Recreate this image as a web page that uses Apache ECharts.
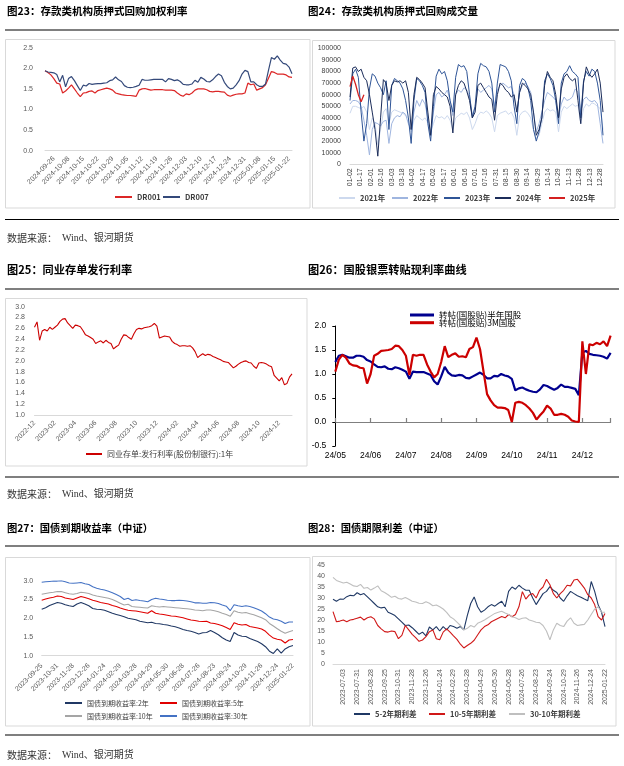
<!DOCTYPE html>
<html>
<head>
<meta charset="utf-8">
<script src="https://cdn.jsdelivr.net/npm/echarts@6/dist/echarts.min.js"></script>
<style>
html,body{margin:0;padding:0;background:#ffffff;}
#c{width:624px;height:766px;}
</style>
</head>
<body>
<div id="c"></div>
<script>
// ---------- Figure 23 : DR001 / DR007 ----------
const labels23 = ['2024-09-26','2024-10-08','2024-10-15','2024-10-22','2024-10-29','2024-11-05','2024-11-12','2024-11-19','2024-11-26','2024-12-03','2024-12-10','2024-12-17','2024-12-24','2024-12-31','2025-01-08','2025-01-15','2025-01-22'];
const dr001 = [1.94,1.90,1.84,1.75,1.64,1.62,1.40,1.45,1.52,1.60,
1.50,1.40,1.31,1.40,1.41,1.44,1.45,1.40,1.46,1.48,
1.50,1.52,1.50,1.47,1.40,1.38,1.36,1.35,1.34,1.34,
1.33,1.32,1.47,1.50,1.51,1.49,1.47,1.48,1.48,1.48,
1.48,1.47,1.47,1.47,1.46,1.40,1.35,1.32,1.38,1.36,
1.40,1.47,1.50,1.50,1.50,1.48,1.44,1.43,1.44,1.44,
1.43,1.42,1.35,1.32,1.35,1.37,1.38,1.38,1.40,1.64,
1.60,1.62,1.47,1.50,1.53,1.60,1.76,1.92,1.90,1.86,
1.86,1.86,1.84,1.79,1.78];
const dr007 = [1.94,1.91,1.90,1.89,1.85,1.67,1.83,1.55,1.75,1.80,
1.70,1.58,1.46,1.59,1.57,1.63,1.61,1.62,1.63,1.63,
1.64,1.65,1.70,1.72,1.79,1.72,1.68,1.58,1.54,1.53,
1.54,1.56,1.59,1.73,1.71,1.71,1.72,1.73,1.73,1.73,
1.73,1.67,1.75,1.73,1.70,1.72,1.68,1.61,1.60,1.60,
1.62,1.71,1.66,1.78,1.74,1.68,1.67,1.72,1.80,1.86,
1.82,1.66,1.56,1.50,1.52,1.60,1.70,1.86,1.95,1.92,
1.67,1.67,1.60,1.56,1.56,1.62,1.95,2.26,2.22,2.30,
2.20,2.12,2.10,2.03,1.87];

// ---------- Figure 24 : repo volume by year (sampled every 4 calendar days from 01-02) ----------
const labels24 = ['01-02','01-17','02-01','02-16','03-03','03-18','04-02','04-17','05-02','05-17','06-01','06-16','07-01','07-16','07-31','08-15','08-30','09-14','09-29','10-14','10-29','11-13','11-28','12-13','12-28'];
const dayStep24 = 4;
const vol2021 = [44000,50000,50000,49000,48000,50000,45000,30000,40000,35000,
17000,30000,45000,48000,35000,45000,47000,46000,45000,44000,
42000,40000,28000,38000,42000,40000,38000,40000,36000,28000,
35000,42000,40000,41000,39000,42000,38000,30000,40000,42000,
44000,43000,45000,40000,30000,35000,42000,45000,44000,46000,
44000,40000,28000,42000,44000,45000,46000,43000,45000,40000,
25000,42000,45000,46000,44000,40000,30000,22000,25000,35000,
45000,48000,46000,47000,45000,28000,45000,50000,48000,50000,
52000,50000,51000,35000,48000,52000,50000,53000,52000,50000,
48000,30000];
const vol2022 = [52000,55000,55000,54000,50000,38000,25000,8000,30000,36000,
35000,33000,37000,38000,18000,35000,40000,42000,41000,45000,
43000,35000,30000,45000,55000,50000,56000,52000,40000,25000,
45000,60000,62000,58000,60000,64000,55000,42000,60000,64000,
62000,66000,64000,58000,42000,50000,65000,62000,64000,66000,
68000,65000,50000,64000,68000,70000,68000,66000,67000,60000,
45000,62000,68000,70000,67000,62000,45000,28000,35000,45000,
55000,62000,60000,58000,55000,40000,52000,58000,55000,56000,
58000,65000,62000,45000,56000,58000,55000,54000,55000,52000,
35000,18000];
const vol2023 = [55000,78000,82000,75000,45000,20000,35000,65000,78000,76000,
70000,66000,60000,72000,30000,68000,74000,72000,70000,65000,
55000,40000,18000,55000,74000,72000,68000,62000,35000,20000,
50000,76000,82000,78000,80000,72000,55000,45000,75000,86000,
84000,85000,80000,60000,40000,50000,78000,87000,85000,84000,
80000,70000,45000,70000,86000,85000,84000,80000,72000,50000,
35000,68000,74000,72000,66000,55000,30000,20000,28000,40000,
72000,78000,74000,68000,55000,35000,70000,78000,80000,85000,
80000,78000,75000,40000,72000,80000,76000,82000,80000,70000,
55000,25000];
const vol2024 = [58000,83000,84000,80000,82000,75000,72000,60000,45000,30000,
7000,40000,73000,70000,55000,68000,72000,71000,72000,70000,
72000,62000,30000,60000,75000,73000,70000,66000,45000,25000,
60000,67000,65000,62000,60000,58000,50000,27000,60000,68000,
72000,70000,63000,55000,40000,45000,68000,70000,66000,62000,
58000,56000,38000,60000,70000,68000,64000,62000,58000,60000,
45000,62000,70000,68000,65000,60000,45000,25000,30000,40000,
68000,80000,75000,72000,60000,40000,65000,75000,78000,74000,
72000,74000,55000,35000,70000,84000,78000,75000,78000,82000,
70000,45000];
const vol2025 = [67000,76000,69000,60000,54000,60000];

// ---------- Figure 25 : NCD issuance rate (4 points per month from 2022-12) ----------
const labels25 = ['2022-12','2023-02','2023-04','2023-06','2023-08','2023-10','2023-12','2024-02','2024-04','2024-06','2024-08','2024-10','2024-12'];
const monthStep25 = 0.25;
const ncdRate = [2.62,2.72,2.38,2.55,2.58,2.55,2.62,2.58,2.62,2.66,
2.73,2.77,2.78,2.70,2.65,2.60,2.66,2.65,2.63,2.56,
2.48,2.46,2.43,2.40,2.32,2.35,2.37,2.33,2.38,2.34,
2.32,2.22,2.26,2.29,2.40,2.48,2.47,2.43,2.40,2.50,
2.58,2.60,2.59,2.61,2.62,2.63,2.65,2.69,2.64,2.42,
2.44,2.46,2.45,2.44,2.36,2.32,2.30,2.27,2.28,2.28,
2.27,2.28,2.24,2.17,2.06,2.10,2.13,2.10,2.12,2.11,
2.08,2.06,2.04,2.02,1.99,1.98,1.97,1.92,1.87,1.90,
1.94,1.97,1.99,2.00,1.97,1.96,1.90,1.86,1.96,1.97,
1.96,1.94,1.91,1.89,1.73,1.68,1.63,1.69,1.56,1.58,
1.70,1.76];

// ---------- Figure 26 : bill rediscount rates (10 points per month from 24/05) ----------
const labels26 = ['24/05','24/06','24/07','24/08','24/09','24/10','24/11','24/12'];
const monthStep26 = 0.1;
const halfYear = [1.25,1.38,1.40,1.37,1.34,1.34,1.38,1.38,1.36,1.29,
1.26,1.20,1.15,1.14,1.16,1.11,1.10,1.14,1.12,1.09,
1.05,0.90,1.05,1.04,1.04,1.04,1.01,0.98,0.85,0.78,
0.95,1.15,1.03,0.97,0.96,0.98,0.97,0.92,0.91,0.95,
0.99,1.03,0.98,0.91,0.91,0.96,0.95,1.00,0.97,0.95,
0.90,0.66,0.70,0.72,0.68,0.65,0.63,0.62,0.68,0.77,
0.75,0.71,0.67,0.71,0.78,0.73,0.73,0.71,0.69,0.56,
1.45,1.48,1.42,1.40,1.39,1.38,1.36,1.32,1.44];
const threeMonth = [1.05,1.30,1.40,1.34,1.22,1.18,1.17,1.13,1.12,0.80,
1.00,1.38,1.42,1.48,1.49,1.50,1.52,1.59,1.58,1.50,
1.38,0.98,1.40,1.38,1.40,1.40,1.20,1.05,0.93,1.00,
1.25,1.58,1.35,1.40,1.43,1.36,1.37,1.35,1.52,1.56,
1.76,1.52,1.05,0.58,0.45,0.35,0.30,0.30,0.29,0.25,
0.00,0.40,0.42,0.40,0.35,0.28,0.19,0.05,0.14,0.22,
0.34,0.28,0.15,0.15,0.17,0.15,0.11,0.03,0.01,0.00,
1.68,1.00,1.62,1.60,1.65,1.62,1.68,1.58,1.80];

// ---------- Figure 27 : treasury yields (weekly, 4 points per label step) ----------
const labels27 = ['2023-09-25','2023-10-31','2023-11-28','2023-12-26','2024-01-24','2024-02-29','2024-03-28','2024-04-29','2024-05-30','2024-06-28','2024-07-26','2024-08-23','2024-09-24','2024-10-29','2024-11-26','2024-12-24','2025-01-22'];
const yield2y = [2.24,2.28,2.34,2.38,2.42,2.40,2.36,2.33,2.31,2.38,
2.42,2.38,2.33,2.26,2.24,2.23,2.21,2.17,2.13,2.10,
2.07,2.04,2.00,1.98,1.96,1.92,1.90,1.88,1.89,1.86,
1.85,1.83,1.82,1.79,1.77,1.74,1.70,1.67,1.65,1.62,
1.58,1.61,1.62,1.67,1.62,1.56,1.48,1.42,1.38,1.62,
1.55,1.52,1.51,1.46,1.42,1.38,1.32,1.24,1.12,1.06,
1.18,1.07,1.18,1.24,1.27];
const yield5y = [2.48,2.51,2.54,2.56,2.59,2.58,2.54,2.52,2.50,2.54,
2.58,2.55,2.52,2.48,2.45,2.42,2.40,2.38,2.34,2.31,
2.27,2.24,2.21,2.20,2.19,2.17,2.15,2.13,2.20,2.13,
2.11,2.10,2.08,2.06,2.05,2.03,2.01,1.98,1.95,1.94,
1.92,1.91,1.92,1.87,1.86,1.83,1.80,1.75,1.70,1.88,
1.84,1.82,1.83,1.78,1.76,1.74,1.71,1.65,1.55,1.47,
1.44,1.42,1.34,1.42,1.43];
const yield10y = [2.64,2.66,2.68,2.69,2.71,2.71,2.68,2.65,2.64,2.66,
2.69,2.68,2.66,2.62,2.59,2.57,2.55,2.53,2.50,2.45,
2.40,2.35,2.37,2.31,2.30,2.29,2.28,2.27,2.33,2.31,
2.30,2.31,2.30,2.29,2.28,2.27,2.26,2.25,2.24,2.22,
2.21,2.20,2.22,2.22,2.20,2.17,2.13,2.10,2.05,2.20,
2.16,2.14,2.15,2.12,2.09,2.05,2.01,1.96,1.86,1.79,
1.72,1.65,1.60,1.64,1.67];
const yield30y = [2.96,2.97,2.98,2.99,2.99,3.00,2.97,2.94,2.93,2.94,
2.95,2.92,2.90,2.84,2.80,2.77,2.75,2.72,2.68,2.63,
2.58,2.50,2.53,2.47,2.49,2.47,2.46,2.44,2.50,2.53,
2.51,2.50,2.48,2.47,2.47,2.48,2.47,2.46,2.44,2.41,
2.41,2.40,2.40,2.42,2.41,2.39,2.35,2.32,2.20,2.36,
2.33,2.31,2.33,2.31,2.28,2.24,2.19,2.12,2.03,1.98,
1.96,1.92,1.86,1.90,1.90];

// ---------- Figure 28 : term spreads (bp, weekly) ----------
const labels28 = ['2023-07-03','2023-07-31','2023-08-28','2023-09-25','2023-10-31','2023-11-28','2023-12-26','2024-01-24','2024-02-29','2024-03-28','2024-04-29','2024-05-30','2024-06-28','2024-07-26','2024-08-23','2024-09-24','2024-10-29','2024-11-26','2024-12-24','2025-01-22'];
const spread52 = [29.4,28.5,29.5,29.4,30.6,31.2,31.0,32.4,31.5,32.0,
30.5,29.0,27.5,26.0,25.5,25.8,23.5,22.8,22.0,20.5,
19.0,17.5,17.7,16.5,15.0,13.5,14.5,12.8,16.8,15.5,
17.0,15.0,17.0,15.5,17.5,17.0,16.3,17.0,15.5,22.0,
27.5,30.5,26.0,23.5,24.5,26.0,27.0,26.3,27.5,28.5,
26.0,33.0,35.0,34.0,35.8,34.5,33.5,33.5,30.0,27.0,
29.5,32.0,33.0,35.2,33.5,32.5,30.0,28.5,31.0,33.0,
32.0,31.0,30.3,29.5,28.8,37.5,33.0,27.0,23.5,17.0];
const spread105 = [23.8,19.2,19.5,20.0,19.2,20.0,20.3,20.8,21.3,20.0,
21.0,21.5,20.5,17.5,16.0,14.7,14.5,15.0,14.7,11.5,
13.0,17.5,15.5,13.5,12.0,10.3,10.9,12.4,14.7,15.5,
11.5,11.0,14.5,16.0,14.5,12.8,11.2,9.0,7.3,8.4,
9.4,10.8,13.2,15.5,17.0,17.8,19.2,20.0,20.8,21.6,
21.0,22.5,21.5,22.5,26.0,32.9,29.5,31.4,32.0,30.0,
33.5,35.0,38.5,36.0,32.0,30.0,32.0,33.5,35.8,35.5,
38.2,38.5,36.5,34.5,31.5,30.0,27.0,21.5,20.0,23.0];
const spread3010 = [39.4,38.0,37.4,36.8,37.2,36.4,35.5,35.2,36.2,34.4,
34.8,33.6,34.5,35.5,33.3,32.5,31.5,30.3,30.8,29.8,
29.5,30.2,29.4,28.5,28.2,27.6,27.5,28.3,27.6,26.5,
26.8,26.0,25.0,23.5,21.5,20.5,19.0,17.5,15.5,16.2,
17.5,16.8,18.5,19.2,20.0,21.0,22.0,23.0,23.5,24.0,
23.2,22.5,21.5,21.0,20.2,20.8,21.0,20.0,19.5,19.0,
18.8,17.5,15.0,11.0,15.5,18.5,17.5,17.0,19.5,21.0,
18.5,17.5,17.8,18.0,20.0,22.5,25.0,26.0,23.5,23.5];

// ---------- helpers ----------
const NUM = '"Liberation Sans", Arial, "Noto Sans CJK SC", sans-serif';
const CJK = '"Noto Sans CJK SC", "Liberation Sans", sans-serif';
const LAB = '#595959';

function indexCats(n){ const a=[]; for(let i=0;i<n;i++) a.push(String(i)); return a; }
function pairs(vals, step){ return vals.map((v,i)=>[Math.round(i*step*10000)/10000, v]); }

function catX(gi, n, labels, offset, step, rotate, margin, color){
  return {type:'category', gridIndex:gi, boundaryGap:false, data:indexCats(n),
    axisLine:{show:true, onZero:false, lineStyle:{color:'#d9d9d9', width:1}},
    axisTick:{show:false}, splitLine:{show:false},
    axisLabel:{interval:(i)=> i>=offset && (i-offset)%step===0,
      formatter:(v,i)=>{ const k=(i-offset)/step; return (k>=0 && Number.isInteger(k) && labels[k]) ? labels[k] : ''; },
      rotate:rotate, margin:margin, fontSize:7, color:color, fontFamily:NUM}};
}
function valX(gi, max, interval, labels, rotate, margin, color, fs){
  return {type:'value', gridIndex:gi, min:0, max:max, interval:interval,
    axisLine:{show:true, onZero:false, lineStyle:{color:'#d9d9d9', width:1}},
    axisTick:{show:false}, splitLine:{show:false},
    axisLabel:{showMinLabel:true, showMaxLabel:true,
      formatter:(v)=>{ const k=Math.round(v/interval); return (Math.abs(k*interval-v)<1e-6 && labels[k]!==undefined) ? labels[k] : ''; },
      rotate:rotate, margin:margin, fontSize:fs||7, color:color, fontFamily:NUM}};
}
function valY(gi, min, max, interval, fmt, margin, color, fs){
  return {type:'value', gridIndex:gi, min:min, max:max, interval:interval,
    axisLine:{show:false}, axisTick:{show:false}, splitLine:{show:false},
    axisLabel:{formatter:fmt, margin:margin, fontSize:fs||7, color:color||LAB, fontFamily:NUM}};
}
function ln(name, xi, yi, data, color, width){
  return {name:name, type:'line', xAxisIndex:xi, yAxisIndex:yi, data:data, showSymbol:false, symbol:'none',
    color:color, itemStyle:{color:color}, lineStyle:{color:color, width:width}, silent:true, emphasis:{disabled:true}};
}
function leg(name, left, cy, w, h, fs, weight, color){
  return {data:[name], left:left, top:cy-5, padding:0, itemGap:0, icon:'rect', itemWidth:w, itemHeight:h,
    selectedMode:false, textStyle:{fontSize:fs, fontWeight:weight, color:color, fontFamily:CJK, lineHeight:10}};
}
const f1 = v => v.toFixed(1);

// ---------- graphic: titles, rules, frames, sources ----------
const gfx = [];
function title(t, x, y, fs){ gfx.push({type:'text', style:{text:t, x:x, y:y, font:'bold '+fs+'px "Noto Sans CJK SC", sans-serif', fill:'#000', align:'left', verticalAlign:'middle'}}); }
function rule(y){ gfx.push({type:'line', shape:{x1:5, y1:y, x2:619, y2:y}, style:{stroke:'#000', lineWidth:1.2}}); }
function frame(x, y, w, h){ gfx.push({type:'rect', shape:{x:x, y:y, width:w, height:h}, style:{fill:'none', stroke:'#d9d9d9', lineWidth:1}}); }
function source(y){
  gfx.push({type:'text', style:{text:'数据来源：', x:7, y:y, font:'10px "Noto Sans CJK SC", serif', fill:'#333', verticalAlign:'middle'}});
  gfx.push({type:'text', style:{text:'Wind、银河期货', x:62, y:y, font:'10px "Liberation Serif", "Noto Sans CJK SC", serif', fill:'#333', verticalAlign:'middle'}});
}
title('图23：存款类机构质押式回购加权利率', 7, 11.5, 10.5);
title('图24：存款类机构质押式回购成交量', 308, 11.5, 10.5);
title('图25：同业存单发行利率', 7, 270, 11.2);
title('图26：国股银票转贴现利率曲线', 308, 270, 11.2);
title('图27：国债到期收益率（中证）', 7, 528, 10.3);
title('图28：国债期限利差（中证）', 308, 528, 10.3);
rule(30); rule(219.5); rule(289); rule(477); rule(546); rule(735);
frame(5.5, 39.5, 304.5, 168.5);
frame(312.5, 40.5, 302.5, 167.5);
frame(5.5, 298.5, 301.5, 167.5);
frame(5.5, 557.5, 304.5, 168.5);
frame(312.5, 556.5, 303.5, 169.5);
source(238); source(494); source(755);

// figure 26 axes: labels at bottom, axis line with ticks on the zero level
const x26labels = valX(3, 7.8, 1, labels26, 0, 5, '#000', 8.5);
x26labels.axisLine = {show:false, onZero:false};
const x26zero = valX(3, 7.8, 1, [], 0, 5, '#000');
x26zero.axisLine = {show:true, onZero:true, lineStyle:{color:'#7f7f7f', width:1.2}};
x26zero.axisTick = {show:true, length:4, inside:false, lineStyle:{color:'#7f7f7f', width:1.2}};
x26zero.axisLabel = {show:false};
const y26 = valY(3, -0.5, 2.0, 0.5, f1, 9, '#000', 8.5);
y26.axisLine = {show:true, onZero:false, lineStyle:{color:'#000', width:1}};
y26.axisTick = {show:true, length:3, lineStyle:{color:'#000', width:1}};

const option = {
  animation:false,
  backgroundColor:'#ffffff',
  graphic: gfx,
  grid:[
    {left:45, top:47.7, width:247, height:103, outerBoundsMode:'none'},
    {left:350, top:48.3, width:253, height:116, outerBoundsMode:'none'},
    {left:34.5, top:306.7, width:257.5, height:108.3, outerBoundsMode:'none'},
    {left:335.3, top:326, width:275.3, height:120, outerBoundsMode:'none'},
    {left:41.7, top:580.7, width:251.3, height:75, outerBoundsMode:'none'},
    {left:333, top:565, width:272, height:99, outerBoundsMode:'none'}
  ],
  xAxis:[
    catX(0, dr001.length, labels23, 3, 5, 45, 7, LAB),
    valX(1, 364, 15, labels24, 90, 4, '#404040'),
    valX(2, 25.25, 2, labels25, 45, 7, LAB),
    x26labels,
    x26zero,
    valX(4, yield2y.length-1, 4, labels27, 45, 9, LAB),
    catX(5, spread52.length, labels28, 3, 4, 90, 5, LAB)
  ],
  yAxis:[
    valY(0, 0, 2.5, 0.5, f1, 12),
    valY(1, 0, 100000, 10000, v => String(v), 9, '#404040'),
    valY(2, 1.0, 3.0, 0.2, f1, 9.5),
    y26,
    valY(4, 1.0, 3.0, 0.5, f1, 8.5),
    valY(5, 0, 45, 5, v => String(v), 8)
  ],
  legend:[
    leg('DR001', 115, 197, 17, 2, 7.5, 'bold', '#404040'),
    leg('DR007', 163, 197, 17, 2, 7.5, 'bold', '#404040'),
    leg('2021年', 339, 198, 16, 2, 7.5, 'bold', '#404040'),
    leg('2022年', 392, 198, 16, 2, 7.5, 'bold', '#404040'),
    leg('2023年', 444, 198, 16, 2, 7.5, 'bold', '#404040'),
    leg('2024年', 495, 198, 16, 2, 7.5, 'bold', '#404040'),
    leg('2025年', 549, 198, 16, 2, 7.5, 'bold', '#404040'),
    leg('同业存单:发行利率(股份制银行):1年', 86, 454, 16, 2, 8, 'normal', '#404040'),
    leg('转帖(国股贴)半年国股', 410, 315, 24, 3, 8.5, 'normal', '#000'),
    leg('转帖(国股贴)3M国股', 410, 322.7, 24, 3, 8.5, 'normal', '#000'),
    leg('国债到期收益率:2年', 65, 703, 17, 2, 7, 'normal', '#404040'),
    leg('国债到期收益率:5年', 160, 703, 17, 2, 7, 'normal', '#404040'),
    leg('国债到期收益率:10年', 65, 716, 17, 2, 7, 'normal', '#404040'),
    leg('国债到期收益率:30年', 160, 716, 17, 2, 7, 'normal', '#404040'),
    leg('5-2年期利差', 354, 714, 16, 2, 7.5, 'bold', '#404040'),
    leg('10-5年期利差', 429, 714, 16, 2, 7.5, 'bold', '#404040'),
    leg('30-10年期利差', 509, 714, 16, 2, 7.5, 'bold', '#404040')
  ],
  series:[
    ln('DR001', 0, 0, dr001, '#dc2626', 1.2),
    ln('DR007', 0, 0, dr007, '#34497a', 1.2),
    ln('2021年', 1, 1, pairs(vol2021, dayStep24), '#cdd9ee', 1),
    ln('2022年', 1, 1, pairs(vol2022, dayStep24), '#9fb5df', 1),
    ln('2023年', 1, 1, pairs(vol2023, dayStep24), '#2f5597', 1),
    ln('2024年', 1, 1, pairs(vol2024, dayStep24), '#1c2d5a', 1),
    ln('2025年', 1, 1, pairs(vol2025, dayStep24), '#d42020', 1.3),
    ln('同业存单:发行利率(股份制银行):1年', 2, 2, pairs(ncdRate, monthStep25), '#cc0000', 1.1),
    ln('转帖(国股贴)半年国股', 3, 3, pairs(halfYear, monthStep26), '#00008f', 2.2),
    ln('转帖(国股贴)3M国股', 3, 3, pairs(threeMonth, monthStep26), '#cc0000', 2.2),
    ln('国债到期收益率:2年', 5, 4, pairs(yield2y, 1), '#203864', 1.1),
    ln('国债到期收益率:5年', 5, 4, pairs(yield5y, 1), '#e00000', 1.1),
    ln('国债到期收益率:10年', 5, 4, pairs(yield10y, 1), '#a5a5a5', 1.1),
    ln('国债到期收益率:30年', 5, 4, pairs(yield30y, 1), '#4472c4', 1.1),
    ln('5-2年期利差', 6, 5, spread52, '#1f3864', 1.1),
    ln('10-5年期利差', 6, 5, spread105, '#d01818', 1.1),
    ln('30-10年期利差', 6, 5, spread3010, '#bfbfbf', 1.1)
  ]
};
const chart = echarts.init(document.getElementById('c'));
chart.setOption(option);
</script>
</body>
</html>
